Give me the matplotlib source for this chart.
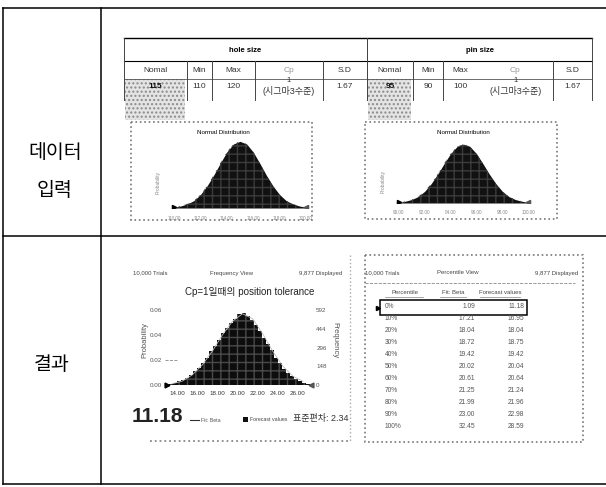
import numpy as np
import matplotlib
matplotlib.use('Agg')
from matplotlib import pyplot as plt
from matplotlib.patches import Rectangle

plt.rcParams['font.family'] = ['Liberation Sans', 'Noto Sans CJK KR']

W, H = 606, 487

# ---- data ----
col_names = ['Nomal', 'Min', 'Max', 'Cp', 'S.D']
hole_row = ['115', '110', '120', '1', '1.67']
pin_row = ['95', '90', '100', '1', '1.67']
cp_note = '(시그마3수준)'

hole_x = [110.0, 110.5, 111.0, 111.5, 112.0, 112.5, 113.0, 113.5, 114.0, 114.5, 115.0,
          115.5, 116.0, 116.5, 117.0, 117.5, 118.0, 118.5, 119.0, 119.5, 120.0]
pin_x = [90.0, 90.5, 91.0, 91.5, 92.0, 92.5, 93.0, 93.5, 94.0, 94.5, 95.0,
         95.5, 96.0, 96.5, 97.0, 97.5, 98.0, 98.5, 99.0, 99.5, 100.0]
bell_y = [0.01, 0.03, 0.06, 0.11, 0.20, 0.33, 0.49, 0.67, 0.84, 0.96, 1.00,
          0.96, 0.84, 0.67, 0.49, 0.33, 0.20, 0.11, 0.06, 0.03, 0.01]
hole_ticks = ['110.00', '112.00', '114.00', '116.00', '118.00', '120.00']
pin_ticks = ['90.00', '92.00', '94.00', '96.00', '98.00', '100.00']

hist_x = [13.4, 13.8, 14.2, 14.6, 15.0, 15.4, 15.8, 16.2, 16.6, 17.0, 17.4, 17.8,
          18.2, 18.6, 19.0, 19.4, 19.8, 20.2, 20.6, 21.0, 21.4, 21.8, 22.2, 22.6,
          23.0, 23.4, 23.8, 24.2, 24.6, 25.0, 25.4, 25.8, 26.2, 26.6, 27.0]
hist_p = [0.001, 0.002, 0.003, 0.004, 0.006, 0.008, 0.011, 0.014, 0.018, 0.022, 0.027, 0.031,
          0.036, 0.042, 0.046, 0.050, 0.053, 0.057, 0.058, 0.055, 0.052, 0.048, 0.043, 0.038,
          0.033, 0.028, 0.022, 0.018, 0.013, 0.010, 0.007, 0.005, 0.003, 0.002, 0.001]
fit_x = [13.5, 14.5, 15.5, 16.5, 17.5, 18.5, 19.5, 20.5, 21.5, 22.5, 23.5, 24.5, 25.5, 26.5]
fit_y = [0.001, 0.003, 0.008, 0.016, 0.027, 0.040, 0.051, 0.057, 0.053, 0.041, 0.027, 0.015, 0.007, 0.003]
prob_ticks = [0.00, 0.02, 0.04, 0.06]
freq_ticks = ['0', '148', '296', '444', '592']
hist_xticks = [14, 16, 18, 20, 22, 24, 26]

percentiles = ['0%', '10%', '20%', '30%', '40%', '50%', '60%', '70%', '80%', '90%', '100%']
fit_beta = ['1.09', '17.21', '18.04', '18.72', '19.42', '20.02', '20.61', '21.25', '21.99', '23.00', '32.45']
forecast = ['11.18', '16.95', '18.04', '18.75', '19.42', '20.04', '20.64', '21.24', '21.96', '22.98', '28.59']

fig = plt.figure(figsize=(W / 100, H / 100), dpi=100)
ax = fig.add_axes([0, 0, 1, 1])
ax.set_xlim(0, W)
ax.set_ylim(H, 0)
ax.axis('off')


def px_axes(x0, y0, x1, y1):
    return fig.add_axes([x0 / W, 1 - y1 / H, (x1 - x0) / W, (y1 - y0) / H])


def hline(y, x0, x1, **kw):
    ax.plot([x0, x1], [y, y], color=kw.pop('color', 'black'), lw=kw.pop('lw', 0.9), **kw)


def vline(x, y0, y1, **kw):
    ax.plot([x, x], [y0, y1], color=kw.pop('color', 'black'), lw=kw.pop('lw', 0.9), **kw)


def dotted_box(x0, y0, x1, y1):
    ax.add_patch(Rectangle((x0, y0), x1 - x0, y1 - y0, fill=False, ls=':', lw=1.2, ec='#777777'))


# outer table
hline(8, 3, 606, lw=1.1)
hline(236, 3, 606, lw=1.1)
hline(484, 3, 606, lw=1.1)
vline(3, 8, 484, lw=1.1)
vline(101, 8, 484, lw=1.1)
ax.text(55, 152, '데이터', ha='center', va='center', fontsize=14, family=['Noto Sans CJK KR'])
ax.text(55, 190, '입력', ha='center', va='center', fontsize=14, family=['Noto Sans CJK KR'])
ax.text(52, 365, '결과', ha='center', va='center', fontsize=14, family=['Noto Sans CJK KR'])

# inner input table
hole_cols = [124, 187, 212, 255, 323, 367]
pin_cols = [367, 413, 443, 478, 553, 592]
hline(38, 124, 592, lw=1.0)
hline(61, 124, 592, lw=0.8)
hline(79, 124, 592, lw=0.6, color='#555555')
for cols in (hole_cols, pin_cols):
    for i, x in enumerate(cols):
        if i == 3 and cols is pin_cols:
            continue
        top = 38 if i in (0, len(cols) - 1) else 61
        vline(x, top, 100, lw=0.7, color='#444444')
ax.text(245, 50, 'hole size', ha='center', va='center', fontsize=5.5, weight='bold')
ax.text(480, 50, 'pin size', ha='center', va='center', fontsize=5.5, weight='bold')

for cols, row in ((hole_cols, hole_row), (pin_cols, pin_row)):
    ax.add_patch(Rectangle((cols[0] + 1, 79), cols[1] - cols[0] - 3, 41, fc='#e4e4e4', ec='#8a8a8a',
                           hatch='....', lw=0))
    for i, name in enumerate(col_names):
        xc = (cols[i] + cols[i + 1]) / 2
        ax.text(xc, 71, name, ha='center', va='center', fontsize=6,
                color='#999999' if name == 'Cp' else '#333333')
        if name == 'Cp':
            ax.text(xc, 80, row[i], ha='center', va='center', fontsize=5.5, color='#333333')
            ax.text(xc, 91, cp_note, ha='center', va='center', fontsize=6.5, color='#333333')
        else:
            ax.text(xc, 86, row[i], ha='center', va='center', fontsize=6,
                    weight='bold' if i == 0 else 'normal', color='#111111' if i == 0 else '#333333')

# normal distribution charts
for (bx0, bx1, by0, by1), (px0, px1, base, top), xs, ticks in (
        ((131, 312, 122, 220), (170, 310, 208, 140), hole_x, hole_ticks),
        ((365, 557, 122, 219), (395, 532, 203, 143), pin_x, pin_ticks)):
    dotted_box(bx0, by0, bx1, by1)
    ax.text((bx0 + bx1) / 2 + 2, 133, 'Normal Distribution', ha='center', va='center', fontsize=4.5)
    ax.text(px0 - 12, (base + top) / 2 + 8, 'Probability', rotation=90, ha='center', va='center',
            fontsize=3.5, color='#888888')
    a = px_axes(px0, top, px1, base)
    a.fill_between(xs, 0, bell_y, color='#111111', lw=0)
    a.fill_between(xs, 0, bell_y, facecolor='none', edgecolor='#3c3c3c', hatch='++', lw=0)
    a.plot([xs[0]], [0.02], marker='>', color='black', ms=3)
    a.plot([xs[-1]], [0.02], marker='<', color='#555555', ms=3)
    a.set_xlim(xs[0] - 0.3, xs[-1] + 0.3)
    a.set_ylim(0, 1.02)
    a.axis('off')
    tick_pos = np.linspace(xs[0], xs[-1], len(ticks))
    for t, lab in zip(tick_pos, ticks):
        a.text(t, -0.12, lab, ha='center', va='top', fontsize=3.3, color='#888888')

# result: frequency histogram
ax.text(133, 273, '10,000 Trials', ha='left', va='center', fontsize=4.3, color='#444444')
ax.text(232, 273, 'Frequency View', ha='center', va='center', fontsize=4.3, color='#444444')
ax.text(342, 273, '9,877 Displayed', ha='right', va='center', fontsize=4.3, color='#444444')
ax.text(250, 292, 'Cp=1일때의 position tolerance', ha='center', va='center', fontsize=7,
        color='#222222')
ax.text(145, 340, 'Probability', rotation=90, ha='center', va='center', fontsize=5.5, color='#555555')
ax.text(335, 340, 'Frequency', rotation=270, ha='center', va='center', fontsize=5.5, color='#555555')

h = px_axes(165, 300, 312, 388)
h.bar(hist_x, hist_p, width=0.4, color='#0d0d0d', lw=0)
h.bar(hist_x, hist_p, width=0.4, facecolor='none', edgecolor='#4a4a4a', hatch='++', lw=0)
h.plot(fit_x, fit_y, color='#bbbbbb', lw=0.6)
h.set_xlim(12.81, 27.39)
h.set_ylim(-0.0024, 0.068)
h.hlines(0.02, 12.81, 14.0, colors='#888888', linestyles='dashed', lw=0.6)
h.plot([13.0], [0.0], marker='>', color='black', ms=3.5, clip_on=False)
h.plot([27.3], [0.0], marker='<', color='#555555', ms=3.5, clip_on=False)
for s in h.spines.values():
    s.set_visible(False)
h.set_xticks(hist_xticks)
h.set_xticklabels(['%.2f' % v for v in hist_xticks], fontsize=4.5, color='#333333')
h.set_yticks(prob_ticks)
h.set_yticklabels(['%.2f' % v for v in prob_ticks], fontsize=4.5, color='#555555')
h.tick_params(length=0, pad=2)
h2 = h.twinx()
h2.set_ylim(h.get_ylim())
h2.set_yticks(np.linspace(0, 0.06, len(freq_ticks)))
h2.set_yticklabels(freq_ticks, fontsize=4.5, color='#555555')
h2.tick_params(length=0, pad=3)
for s in h2.spines.values():
    s.set_visible(False)

ax.text(132, 416, '11.18', ha='left', va='center', fontsize=15, weight='bold', color='#222222')
hline(420, 190, 199, lw=0.8, color='#333333')
ax.text(201, 420, 'Fit: Beta', ha='left', va='center', fontsize=3.8, color='#555555')
ax.add_patch(Rectangle((243, 417), 5, 5, fc='#111111', ec='none'))
ax.text(250, 419.5, 'Forecast values', ha='left', va='center', fontsize=3.8, color='#444444')
ax.text(293, 419, '표준편차: 2.34', ha='left', va='center', fontsize=6.5, color='#333333')
hline(441, 150, 350, ls=':', lw=1.3, color='#888888')
vline(350, 255, 441, ls=':', lw=1.0, color='#aaaaaa')

# result: percentile view
ax.text(365, 273, '10,000 Trials', ha='left', va='center', fontsize=4.3, color='#444444')
ax.text(458, 273, 'Percentile View', ha='center', va='center', fontsize=4.3, color='#444444')
ax.text(578, 273, '9,877 Displayed', ha='right', va='center', fontsize=4.3, color='#444444')
hline(283, 365, 575, ls='--', lw=0.6, color='#888888')
ax.text(405, 293, 'Percentile', ha='center', va='center', fontsize=4.3, color='#444444')
ax.text(453, 293, 'Fit: Beta', ha='center', va='center', fontsize=4.3, color='#444444')
ax.text(500, 293, 'Forecast values', ha='center', va='center', fontsize=4.3, color='#444444')
hline(297, 385, 423, lw=0.4, color='#666666')
hline(297, 440, 466, lw=0.4, color='#666666')
hline(297, 480, 520, lw=0.4, color='#666666')
row_y = np.linspace(307, 427, len(percentiles))
for y, p, f, v in zip(row_y, percentiles, fit_beta, forecast):
    ax.text(385, y, p, ha='left', va='center', fontsize=4.8, color='#555555')
    ax.text(475, y, f, ha='right', va='center', fontsize=4.8, color='#555555')
    ax.text(524, y, v, ha='right', va='center', fontsize=4.8, color='#555555')
ax.add_patch(Rectangle((380, 300), 147, 15, fill=False, ec='black', lw=1.1))
ax.plot([378], [307.5], marker='>', color='black', ms=3)
dotted_box(365, 255, 583, 442)

fig.savefig('out.png', dpi=100)
